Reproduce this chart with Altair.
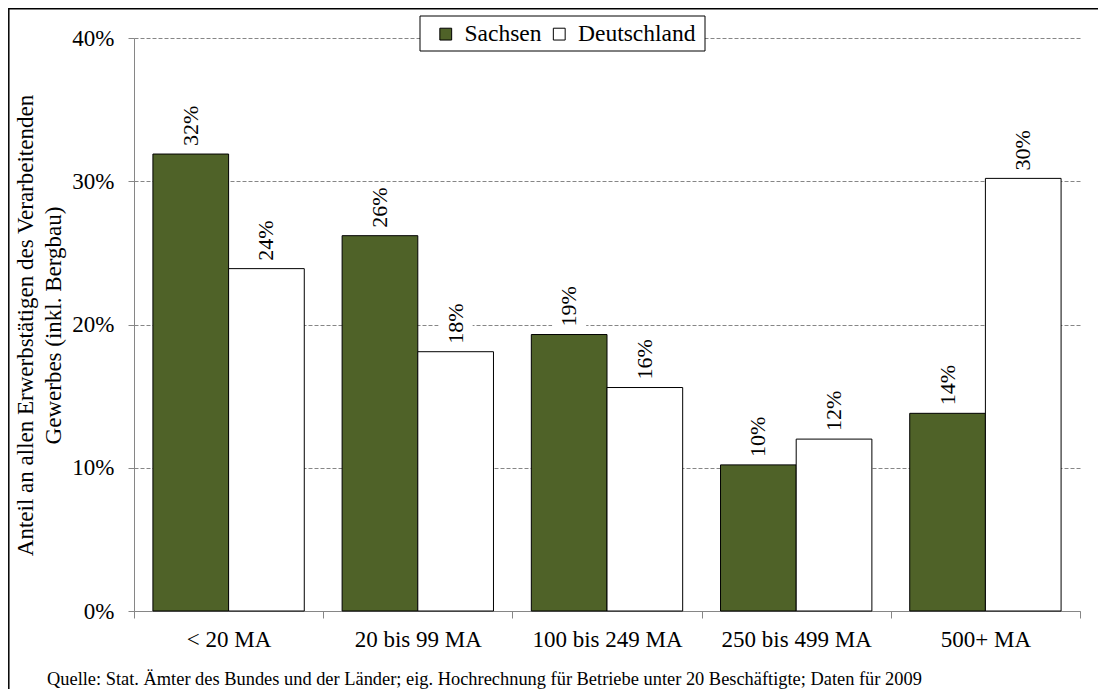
import altair as alt
import pandas as pd

categories = ["< 20 MA", "20 bis 99 MA", "100 bis 249 MA", "250 bis 499 MA", "500+ MA"]
series = ["Sachsen", "Deutschland"]
sachsen = [31.9, 26.2, 19.3, 10.2, 13.8]
deutschland = [23.9, 18.1, 15.6, 12.0, 30.2]
y_ticks = [0, 10, 20, 30, 40]
colors = ["#4F6228", "#FFFFFF"]
y_title = ["Anteil an allen Erwerbstätigen des Verarbeitenden", "Gewerbes (inkl. Bergbau)"]
source_note = "Quelle: Stat. Ämter des Bundes und der Länder; eig.  Hochrechnung für Betriebe unter 20 Beschäftigte; Daten für 2009"

rows = []
for c, s, d in zip(categories, sachsen, deutschland):
    rows.append({"cat": c, "series": "Sachsen", "value": s, "label": f"{round(s)}%"})
    rows.append({"cat": c, "series": "Deutschland", "value": d, "label": f"{round(d)}%"})
df = pd.DataFrame(rows)
one = pd.DataFrame({"k": [0]})

FONT = "Liberation Serif"
GRAY = "#868686"
W, H = 946, 573

x_axis = alt.Axis(tickBand="extent", labelAngle=0, domainColor=GRAY, tickColor=GRAY,
                  tickSize=7, labelPadding=10, labelFontSize=23, labelColor="black",
                  labelFont=FONT, grid=False, title=None)
y_axis = alt.Axis(values=y_ticks, labelExpr="datum.value + '%'", domainColor=GRAY,
                  tickColor=GRAY, tickSize=6, labelPadding=14, labelFontSize=23,
                  labelColor="black", labelFont=FONT, grid=True, gridColor=GRAY,
                  gridDash=[4, 2], gridWidth=1, title=y_title, titleFont=FONT,
                  titleFontSize=23, titleFontWeight="normal", titleColor="black",
                  titleAngle=270, titleBaseline="bottom", titleAlign="center",
                  titleX=-97, titleY=287, titleLineHeight=28)

x = alt.X("cat:N", sort=categories, scale=alt.Scale(paddingInner=0, paddingOuter=0), axis=x_axis)
xo = alt.XOffset("series:N", sort=series, scale=alt.Scale(paddingOuter=0.25, paddingInner=0))
y = alt.Y("value:Q", scale=alt.Scale(domain=[0, 40]), axis=y_axis)

frame = alt.Chart(one).mark_rect(fill="transparent", stroke="black", strokeWidth=1.5).encode(
    x=alt.value(-125.2), x2=alt.value(1100), y=alt.value(-29.2), y2=alt.value(720))

legend_box = alt.Chart(one).mark_rect(fill="white", stroke="black", strokeWidth=1).encode(
    x=alt.value(286), x2=alt.value(571), y=alt.value(-22), y2=alt.value(13))

label_bg = alt.Chart(df).mark_bar(width=34, color="white", yOffset=-4, y2Offset=-52).encode(
    x=x, xOffset=xo, y=y, y2="value:Q")

bars = alt.Chart(df).mark_bar(stroke="black", strokeWidth=1).encode(
    x=x, xOffset=xo, y=y,
    color=alt.Color("series:N", sort=series,
                    scale=alt.Scale(domain=series, range=colors),
                    legend=alt.Legend(title=None, orient="none", legendX=300, legendY=-16,
                                      direction="horizontal", symbolType="square",
                                      symbolSize=140, symbolStrokeColor="black",
                                      symbolStrokeWidth=1, labelFontSize=23.5, labelFont=FONT,
                                      labelColor="black", columnPadding=5.5, labelOffset=7,
                                      padding=0, symbolOpacity=1)))

labels = alt.Chart(df).mark_text(angle=270, align="left", baseline="middle", dx=8,
                                 font=FONT, fontSize=22, color="black").encode(
    x=x, xOffset=xo, y=y, text="label:N")

note = alt.Chart(one).mark_text(align="left", baseline="alphabetic", font=FONT,
                                fontSize=18.4, color="black").encode(
    x=alt.value(-87), y=alt.value(647), text=alt.value(source_note))

chart = alt.layer(label_bg, bars, labels, frame, legend_box, note).properties(
    width=W, height=H,
    padding={"left": 126, "top": 30, "right": 18, "bottom": 78},
    autosize=alt.AutoSizeParams(type="none"),
).configure(font=FONT).configure_view(stroke="transparent").configure_legend(
    labelFont=FONT, labelFontSize=23.5)

chart.save("out.html", embed_options={"renderer": "svg", "actions": False})
